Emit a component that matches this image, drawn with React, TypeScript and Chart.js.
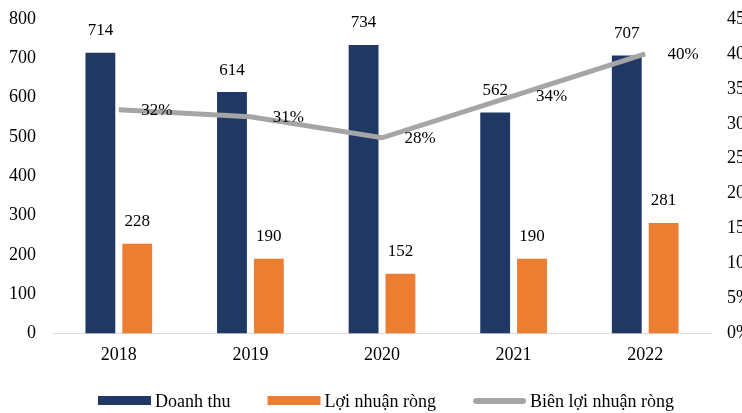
import React, { useEffect, useRef } from "react";
import { Chart, registerables } from "chart.js";
Chart.register(...registerables);

const years = ["2018", "2019", "2020", "2021", "2022"];
const revenue = [714, 614, 734, 562, 707];
const netProfit = [228, 190, 152, 190, 281];
const margin = [32, 31, 28, 34, 40];
const leftTicks = [0, 100, 200, 300, 400, 500, 600, 700, 800];
const rightTicks = [0, 5, 10, 15, 20, 25, 30, 35, 40, 45];

const FONT = "'Liberation Serif', 'Times New Roman', serif";
const NAVY = "#1F3864";
const ORANGE = "#ED7D31";
const GRAY = "#A5A5A5";
const FS = 18;

const labelPlugin = {
  id: "valueLabels",
  afterDatasetsDraw(chart: any) {
    const ctx = chart.ctx;
    ctx.save();
    ctx.font = `17px ${FONT}`;
    ctx.fillStyle = "#000";
    ctx.textBaseline = "middle";
    ctx.textAlign = "center";
    chart.data.datasets.forEach((ds: any, i: number) => {
      const meta = chart.getDatasetMeta(i);
      meta.data.forEach((el: any, j: number) => {
        const v = ds.data[j];
        if (ds.type === "line") {
          ctx.fillText(v + "%", el.x + 38, el.y + 1);
        } else {
          ctx.fillText(String(v), el.x, el.y - 22);
        }
      });
    });
    ctx.restore();
  },
};

const legendPlugin = {
  id: "customLegend",
  afterDraw(chart: any) {
    const ctx = chart.ctx;
    ctx.save();
    ctx.font = `${FS}px ${FONT}`;
    ctx.textBaseline = "middle";
    ctx.textAlign = "left";
    const items = [
      { text: "Doanh thu", color: NAVY, kind: "box" },
      { text: "Lợi nhuận ròng", color: ORANGE, kind: "box" },
      { text: "Biên lợi nhuận ròng", color: GRAY, kind: "line" },
    ];
    const sw = 53;
    const gap = 4;
    const spacing = 37;
    const widths = items.map((it) => sw + gap + ctx.measureText(it.text).width);
    const total = widths.reduce((a, b) => a + b, 0) + spacing * (items.length - 1);
    const ca = chart.chartArea;
    let x = (ca.left + ca.right) / 2 + 4 - total / 2;
    const y = 401;
    items.forEach((it, i) => {
      if (it.kind === "box") {
        ctx.fillStyle = it.color;
        ctx.fillRect(x, y - 5, sw, 9);
      } else {
        ctx.strokeStyle = it.color;
        ctx.lineWidth = 6;
        ctx.lineCap = "round";
        ctx.beginPath();
        ctx.moveTo(x + 3, y);
        ctx.lineTo(x + sw - 3, y);
        ctx.stroke();
      }
      ctx.fillStyle = "#000";
      ctx.fillText(it.text, x + sw + gap, y + 1);
      x += widths[i] + spacing;
    });
    ctx.restore();
  },
};

const noPad = (axis: any, w: number) => {
  axis.width = w;
  axis.paddingTop = 0;
  axis.paddingBottom = 0;
};

export default function App() {
  const ref = useRef<HTMLCanvasElement | null>(null);
  useEffect(() => {
    document.body.style.margin = "0";
    const chart = new Chart(ref.current as HTMLCanvasElement, {
      type: "bar",
      data: {
        labels: years,
        datasets: [
          {
            type: "line",
            label: "Biên lợi nhuận ròng",
            data: margin,
            yAxisID: "y1",
            borderColor: GRAY,
            backgroundColor: GRAY,
            borderWidth: 5,
            pointRadius: 0,
            tension: 0,
            order: 0,
          } as any,
          {
            label: "Doanh thu",
            data: revenue,
            backgroundColor: NAVY,
            yAxisID: "y",
            categoryPercentage: 0.56,
            barPercentage: 0.81,
            order: 1,
          },
          {
            label: "Lợi nhuận ròng",
            data: netProfit,
            backgroundColor: ORANGE,
            yAxisID: "y",
            categoryPercentage: 0.56,
            barPercentage: 0.81,
            order: 1,
          },
        ],
      },
      options: {
        responsive: false,
        animation: false,
        layout: { padding: { top: 19, left: 0, right: 0, bottom: 36 } },
        plugins: {
          tooltip: { enabled: false },
          legend: { display: false },
        },
        scales: {
          x: {
            grid: { display: false, drawTicks: false },
            border: { display: true, color: "#D9D9D9", width: 1 },
            ticks: { font: { family: FONT, size: FS }, color: "#000", padding: 11 },
          },
          y: {
            position: "left",
            min: 0,
            max: 800,
            afterBuildTicks: (axis: any) => {
              axis.ticks = leftTicks.map((v) => ({ value: v }));
            },
            afterFit: (axis: any) => noPad(axis, 53),
            grid: { display: false, drawTicks: false },
            border: { display: false },
            ticks: { font: { family: FONT, size: FS }, color: "#000", padding: 17 },
          },
          y1: {
            position: "right",
            min: 0,
            max: 45,
            afterBuildTicks: (axis: any) => {
              axis.ticks = rightTicks.map((v) => ({ value: v }));
            },
            afterFit: (axis: any) => noPad(axis, 49),
            grid: { display: false, drawTicks: false },
            border: { display: false },
            ticks: {
              font: { family: FONT, size: FS },
              color: "#000",
              padding: 16,
              callback: (v: any) => v + "%",
            },
          },
        },
      },
      plugins: [labelPlugin, legendPlugin],
    } as any);
    return () => chart.destroy();
  }, []);
  return (
    <div style={{ width: 742, height: 413, overflow: "hidden", background: "#fff" }}>
      <canvas ref={ref} width={760} height={413} style={{ display: "block" }} />
    </div>
  );
}
